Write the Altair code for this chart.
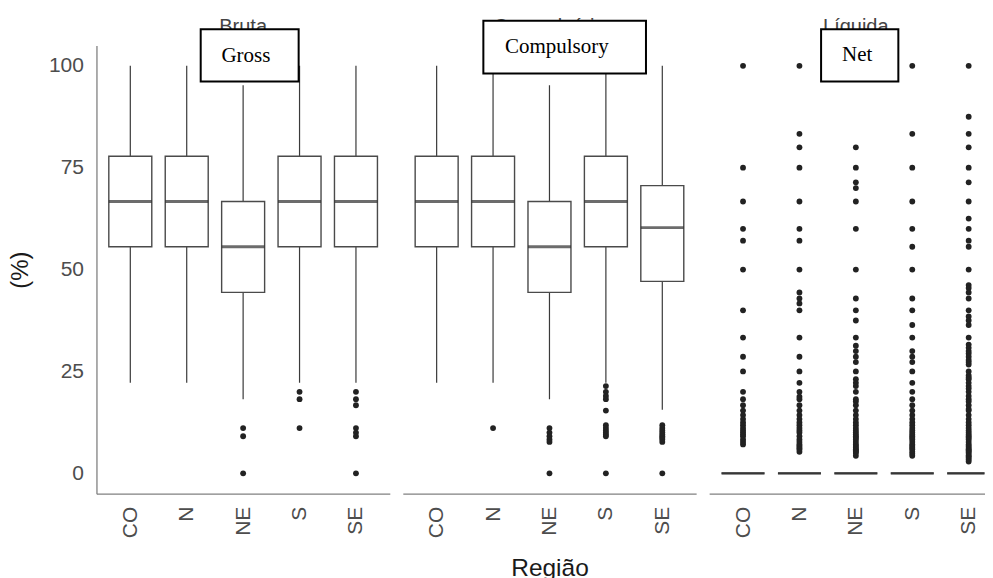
import altair as alt
import pandas as pd

regions = ["CO", "N", "NE", "S", "SE"]
panel_names = ["Bruta", "Compulsória", "Líquida"]
panel_notes = ["Gross", "Compulsory", "Net"]

# five-number summaries (lower whisker, Q1, median, Q3, upper whisker) per region
bruta_lower = [22.2, 22.2, 18.2, 22.2, 22.2]
bruta_q1 = [55.6, 55.6, 44.4, 55.6, 55.6]
bruta_median = [66.7, 66.7, 55.6, 66.7, 66.7]
bruta_q3 = [77.8, 77.8, 66.7, 77.8, 77.8]
bruta_upper = [100, 100, 95.2, 100, 100]

comp_lower = [22.2, 22.2, 18.2, 22.2, 15.6]
comp_q1 = [55.6, 55.6, 44.4, 55.6, 47.1]
comp_median = [66.7, 66.7, 55.6, 66.7, 60.3]
comp_q3 = [77.8, 77.8, 66.7, 77.8, 70.6]
comp_upper = [100, 100, 95.2, 100, 100]

liq_lower = [0, 0, 0, 0, 0]
liq_q1 = [0, 0, 0, 0, 0]
liq_median = [0, 0, 0, 0, 0]
liq_q3 = [0, 0, 0, 0, 0]
liq_upper = [0, 0, 0, 0, 0]

# outliers per region
bruta_out = {
    "CO": [],
    "N": [],
    "NE": [11.1, 9.1, 0],
    "S": [20, 18.2, 11.1],
    "SE": [20, 18.2, 16.7, 11.1, 10, 9.1, 0],
}
comp_out = {
    "CO": [],
    "N": [11.1],
    "NE": [11.1, 10, 9.1, 8.3, 7.7, 0],
    "S": [21.4, 20, 19, 18.2, 15.4, 11.8, 11.1, 10.5, 10, 9.5, 9.1, 0],
    "SE": [11.8, 11.1, 10.5, 10, 9.5, 9.1, 8.7, 8.3, 7.7, 0],
}
liq_out = {
    "CO": [100, 75, 66.7, 60, 57.1, 50, 40, 33.3, 28.6, 25, 20, 18.2, 16.7, 15.4,
           14.3, 13.3, 12.5, 11.8, 11.1, 10.5, 10, 9.5, 9.1, 8.3, 7.7, 7.1],
    "N": [100, 83.3, 80, 75, 66.7, 60, 57.1, 50, 44.4, 42.9, 41.7, 40, 33.3, 28.6,
          25, 22.2, 20, 18.8, 18.2, 16.7, 15.4, 14.3, 13.3, 12.5, 11.8, 11.1, 10.5,
          10, 9.1, 8.3, 7.7, 7.1, 6.7, 6.3, 5.9, 5.3],
    "NE": [80, 75, 71.4, 70, 66.7, 60, 50, 42.9, 40, 37.5, 33.3, 31.3, 30, 28.6,
           27.3, 25, 23.1, 22.2, 21.4, 20, 18.2, 17.6, 16.7, 15.4, 14.3, 13.3, 12.5,
           11.8, 11.1, 10.5, 10, 9.5, 9.1, 8.7, 8.3, 7.7, 7.1, 6.7, 6.3, 5.9, 5.6,
           5.3, 5, 4.3],
    "S": [100, 83.3, 75, 66.7, 60, 55.6, 50, 42.9, 40, 36.4, 33.3, 30, 28.6, 27.3,
          25, 22.2, 20, 18.2, 16.7, 15.4, 14.3, 13.3, 12.5, 11.8, 11.1, 10.5, 10,
          9.5, 9.1, 8.7, 8.3, 7.7, 7.1, 6.7, 6.3, 5.9, 5.3, 4.8, 4.3],
    "SE": [100, 87.5, 83.3, 80, 75, 71.4, 66.7, 62.5, 60, 57.1, 55.6, 50, 46.2,
           45.5, 44.4, 42.9, 40, 38.5, 37.5, 36.4, 33.3, 31.6, 30.8, 30, 29.4, 28.6,
           27.8, 27.3, 26.7, 25, 24, 23.5, 23.1, 22.2, 21.4, 20.8, 20, 19, 18.2,
           17.6, 16.7, 15.8, 15.4, 14.3, 13.3, 12.5, 11.8, 11.1, 10.5, 10, 9.5, 9.1,
           8.7, 8.3, 7.7, 7.1, 6.7, 6.3, 5.9, 5.6, 5.3, 5, 4.5, 4.2, 3.8, 3.4, 2.9],
}

stats_sets = [
    (bruta_lower, bruta_q1, bruta_median, bruta_q3, bruta_upper),
    (comp_lower, comp_q1, comp_median, comp_q3, comp_upper),
    (liq_lower, liq_q1, liq_median, liq_q3, liq_upper),
]
outlier_sets = [bruta_out, comp_out, liq_out]

FONT = "Liberation Sans"
SERIF = "Liberation Serif"
BOXW = 43
H = 448.5

# annotation geometry (pixels relative to each panel's plot area)
note_boxes = [
    dict(x=104.3, x2=202.3, y=-16.3, y2=36.1, tx=125, ty=16.4),
    dict(x=80.6, x2=243.3, y=-24.6, y2=28.1, tx=102.3, ty=7.2),
    dict(x=112, x2=189.3, y=-16.3, y2=36.1, tx=133, ty=15.6),
]
# the right-hand panel is cut at the page edge, as in the original
panel_widths = [293.5, 293.5, 275.5]
panel_pads = [0.6, 0.6, 0.4406]
panel_aligns = [0.5, 0.5, 0.6817]


def make_panel(i):
    lo, q1, med, q3, up = stats_sets[i]
    stats = pd.DataFrame({"region": regions, "lower": lo, "q1": q1,
                          "median": med, "q3": q3, "upper": up})
    rows = [(r, v) for r in regions for v in outlier_sets[i][r]]
    outl = pd.DataFrame(rows, columns=["region", "value"])
    W = panel_widths[i]
    clip = i == 2

    xaxis = alt.Axis(
        title="Região" if i == 1 else None,
        labelAngle=270, labelFontSize=21, labelFont=FONT, labelColor="#4d4d4d",
        ticks=False, labelPadding=12.5, domainColor="#808080", domainWidth=1.3,
        grid=False, titleFontSize=24.5, titleFont=FONT, titleColor="#1a1a1a",
        titleFontWeight="normal", titlePadding=18.5,
    )
    xscale = alt.Scale(type="point", padding=panel_pads[i], align=panel_aligns[i])
    yscale = alt.Scale(domain=[-5, 105], nice=False, zero=False)
    if i == 0:
        yaxis = alt.Axis(
            title="(%)", values=[0, 25, 50, 75, 100], labelFontSize=21,
            labelFont=FONT, labelColor="#4d4d4d", ticks=False, labelPadding=13,
            domainColor="#808080", domainWidth=1.3, grid=False, titleFontSize=24,
            titleFont=FONT, titleColor="#1a1a1a", titleFontWeight="normal",
            titlePadding=15.5,
        )
    else:
        yaxis = None

    X = alt.X("region:N", sort=regions, scale=xscale, axis=xaxis)

    base = alt.Chart(stats)
    whisk = base.mark_rule(color="#3a3a3a", strokeWidth=1.2, clip=clip).encode(
        x=X, y=alt.Y("lower:Q", scale=yscale, axis=yaxis), y2="upper:Q")
    box = base.mark_bar(size=BOXW, fill="white", stroke="#4a4a4a",
                        strokeWidth=1.4, clip=clip).encode(
        x=X, y=alt.Y("q1:Q", scale=yscale, axis=yaxis), y2="q3:Q")
    mid = base.mark_tick(size=BOXW, thickness=2.8, color="#2e2e2e",
                         clip=clip).encode(
        x=X, y=alt.Y("median:Q", scale=yscale, axis=yaxis))
    pts = alt.Chart(outl).mark_circle(size=34, color="#222222", opacity=1,
                                      clip=clip).encode(
        x=X, y=alt.Y("value:Q", scale=yscale, axis=yaxis))

    one = pd.DataFrame({"k": [0]})
    nb = note_boxes[i]
    strip = alt.Chart(one).mark_text(
        text=panel_names[i], font=FONT, fontSize=20, color="#444444",
        align="center", baseline="alphabetic").encode(
        x=alt.value(293.5 / 2), y=alt.value(-12.3))
    rect = alt.Chart(one).mark_rect(fill="white", stroke="black",
                                    strokeWidth=2).encode(
        x=alt.value(nb["x"]), x2=alt.value(nb["x2"]),
        y=alt.value(nb["y"]), y2=alt.value(nb["y2"]))
    note = alt.Chart(one).mark_text(
        text=panel_notes[i], font=SERIF, fontSize=21, color="black",
        align="left", baseline="alphabetic").encode(
        x=alt.value(nb["tx"]), y=alt.value(nb["ty"]))

    return alt.layer(whisk, box, mid, pts, strip, rect, note).properties(
        width=W, height=H)


chart = alt.hconcat(make_panel(0), make_panel(1), make_panel(2),
                    spacing=12.5).properties(
    padding={"left": 0.5, "top": 8.3, "right": 0, "bottom": 0}
).configure_view(stroke=None)

chart.save("out.html", embed_options={"renderer": "svg", "actions": False})
